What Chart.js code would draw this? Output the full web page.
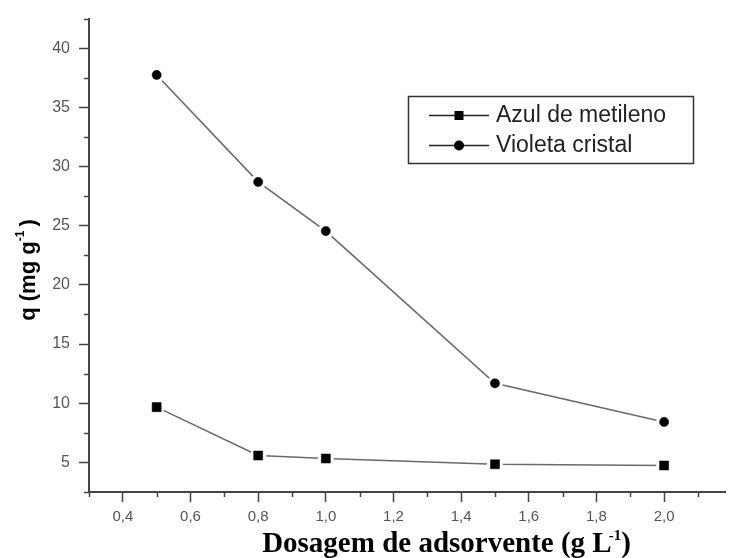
<!DOCTYPE html>
<html>
<head>
<meta charset="utf-8">
<script src="https://cdn.jsdelivr.net/npm/chart.js@4/dist/chart.umd.min.js"></script>
<style>
  body { margin: 0; background: #fff; }
  canvas { display: block; }
</style>
</head>
<body>
<canvas id="myChart" width="733" height="558"></canvas>
<script>
// dosagem de adsorvente (g/L) e capacidade q (mg/g)
const dosagem = [0.5, 0.8, 1.0, 1.5, 2.0];
const azulMetileno = [9.67, 5.58, 5.33, 4.84, 4.74];
const violetaCristal = [37.74, 28.7, 24.55, 11.68, 8.42];
const seriesNames = ['Azul de metileno', 'Violeta cristal'];

const xTickValues = [0.4, 0.6, 0.8, 1.0, 1.2, 1.4, 1.6, 1.8, 2.0];
const yTickValues = [5, 10, 15, 20, 25, 30, 35, 40];

const xMin = 0.3, xMax = 2.18;
const yMin = 2.5, yMax = 42.5;

function pts(ys) {
  return dosagem.map((x, i) => ({ x: x, y: ys[i] }));
}

function commaFmt(v, dec) {
  return v.toFixed(dec).replace('.', ',');
}

// line, white halo (gap round the marker), marker - drawn in that order
function layers(ys, style, radius) {
  return [
    { data: pts(ys), showLine: true, borderColor: '#6a6a6a', borderWidth: 1.6,
      pointRadius: 0, order: 3 },
    { data: pts(ys), showLine: false, pointStyle: 'circle', pointRadius: 8,
      pointBackgroundColor: '#fff', pointBorderWidth: 0, order: 2 },
    { data: pts(ys), showLine: false, pointStyle: style, pointRadius: radius,
      pointBackgroundColor: '#000', pointBorderColor: '#000', pointBorderWidth: 0.5, order: 1 }
  ];
}

const minorTicks = {
  id: 'minorTicks',
  afterDraw(chart) {
    const ctx = chart.ctx;
    const xs = chart.scales.x, ys = chart.scales.y;
    const area = chart.chartArea;
    ctx.save();
    ctx.strokeStyle = '#444';
    ctx.lineWidth = 1.5;
    ctx.beginPath();
    for (let v = 0.3; v < xMax; v += 0.2) {
      const px = Math.round(xs.getPixelForValue(v)) + 0.5;
      ctx.moveTo(px, area.bottom);
      ctx.lineTo(px, area.bottom + 5);
    }
    for (let v = 2.5; v <= yMax + 0.01; v += 5) {
      const py = Math.round(ys.getPixelForValue(v)) + 0.5;
      ctx.moveTo(area.left, py);
      ctx.lineTo(area.left - 5, py);
    }
    ctx.stroke();
    ctx.restore();
  }
};

const titlesAndLegend = {
  id: 'titlesAndLegend',
  afterDraw(chart) {
    const ctx = chart.ctx;
    ctx.save();
    ctx.fillStyle = '#000';
    ctx.textBaseline = 'alphabetic';

    // x title with superscript
    const big = 'bold 29px "Liberation Serif", "Times New Roman", serif';
    const small = 'bold 15px "Liberation Serif", serif';
    const main = 'Dosagem de adsorvente (g L';
    const sup = '-1';
    const tail = ')';
    ctx.font = big;
    const wMain = ctx.measureText(main).width;
    const wTail = ctx.measureText(tail).width;
    ctx.font = small;
    const wSup = ctx.measureText(sup).width;
    let x0 = 448 - (wMain + wSup + wTail) / 2;
    ctx.font = big;
    ctx.fillText(main, x0, 552);
    ctx.font = small;
    ctx.fillText(sup, x0 + wMain - 3, 540);
    ctx.font = big;
    ctx.fillText(tail, x0 + wMain + wSup - 3, 552);

    // y title, rotated
    ctx.translate(35, 269);
    ctx.rotate(-Math.PI / 2);
    const yBig = 'bold 22px "Liberation Sans", Arial, sans-serif';
    const ySmall = 'bold 12px "Liberation Sans", Arial, sans-serif';
    const yMain = 'q (mg g';
    const yTail = ' )';
    ctx.font = yBig;
    const a = ctx.measureText(yMain).width;
    const c = ctx.measureText(yTail).width;
    ctx.font = ySmall;
    const b = ctx.measureText(sup).width;
    let s = -(a + b + c) / 2;
    ctx.font = yBig;
    ctx.fillText(yMain, s, 0);
    ctx.font = ySmall;
    ctx.fillText(sup, s + a, -11);
    ctx.font = yBig;
    ctx.fillText(yTail, s + a + b - 2, 0);
    ctx.setTransform(1, 0, 0, 1, 0, 0);

    // legend box
    ctx.strokeStyle = '#333';
    ctx.lineWidth = 1.5;
    ctx.strokeRect(408.5, 96.5, 285, 67);
    ctx.font = '23px "Liberation Sans", Arial, sans-serif';
    ctx.textBaseline = 'middle';
    const rows = [115, 145];
    rows.forEach((ry, i) => {
      ctx.strokeStyle = '#222';
      ctx.lineWidth = 1.5;
      ctx.beginPath();
      ctx.moveTo(429, ry + 0.5);
      ctx.lineTo(489, ry + 0.5);
      ctx.stroke();
      ctx.fillStyle = '#000';
      ctx.beginPath();
      if (i === 0) {
        ctx.rect(454.5, ry - 4, 9, 9);
      } else {
        ctx.arc(459, ry + 0.5, 5, 0, Math.PI * 2);
      }
      ctx.fill();
      ctx.fillStyle = '#222';
      ctx.fillText(seriesNames[i], 496, ry + 1);
    });
    ctx.restore();
  }
};

const config = {
  type: 'scatter',
  data: {
    datasets: [
      ...layers(azulMetileno, 'rect', 6.4),
      ...layers(violetaCristal, 'circle', 4.6)
    ]
  },
  options: {
    responsive: false,
    animation: false,
    devicePixelRatio: 1,
    layout: { padding: { top: 13, right: 0, left: 0, bottom: 0 } },
    plugins: { legend: { display: false }, tooltip: { enabled: false } },
    scales: {
      x: {
        type: 'linear',
        min: xMin,
        max: xMax,
        afterBuildTicks(scale) { scale.ticks = xTickValues.map(v => ({ value: v })); },
        afterFit(scale) { scale.height = 66; },
        border: { display: true, color: '#444', width: 2 },
        grid: { drawOnChartArea: false, drawTicks: true, tickLength: 10, tickColor: '#444', tickWidth: 1.5 },
        ticks: {
          padding: 6,
          color: '#555',
          font: { family: '"Liberation Sans", Arial, sans-serif', size: 15 },
          callback: v => commaFmt(v, 1)
        }
      },
      y: {
        type: 'linear',
        min: yMin,
        max: yMax,
        afterBuildTicks(scale) { scale.ticks = yTickValues.map(v => ({ value: v })); },
        afterFit(scale) { scale.width = 89; },
        border: { display: true, color: '#444', width: 2 },
        grid: { drawOnChartArea: false, drawTicks: true, tickLength: 10, tickColor: '#444', tickWidth: 1.5 },
        ticks: {
          padding: 9,
          color: '#555',
          font: { family: '"Liberation Sans", Arial, sans-serif', size: 16 },
          callback: v => String(v)
        }
      }
    }
  },
  plugins: [minorTicks, titlesAndLegend]
};

const myChart = new Chart(document.getElementById('myChart'), config);
</script>
</body>
</html>
